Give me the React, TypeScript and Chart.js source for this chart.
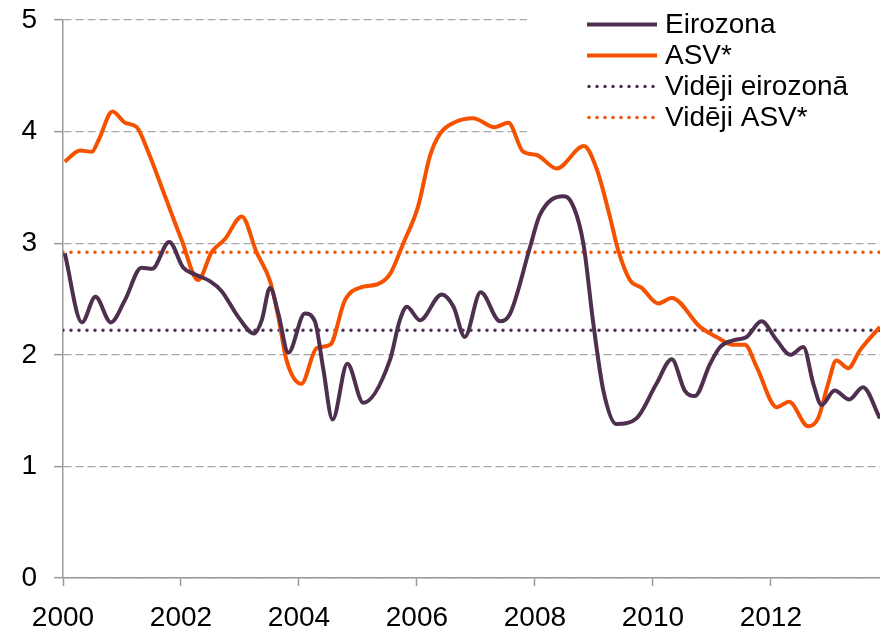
import React, { useEffect, useRef } from "react";
import { Chart, registerables } from "chart.js";

Chart.register(...registerables);

const ezYears = [
  2000.03, 2000.32, 2000.55, 2000.81, 2001.05, 2001.33, 2001.51, 2001.8, 2002.04, 2002.24,
  2002.49, 2002.69, 2002.97, 2003.24, 2003.37, 2003.51, 2003.65, 2003.82, 2004.1, 2004.27,
  2004.41, 2004.57, 2004.82, 2005.09, 2005.54, 2005.71, 2005.83, 2006.05, 2006.42, 2006.62,
  2006.81, 2007.08, 2007.41, 2007.58, 2007.92, 2008.08, 2008.48, 2008.59, 2008.82, 2008.99,
  2009.16, 2009.38, 2009.72, 2010.06, 2010.32, 2010.54, 2010.71, 2010.97, 2011.14, 2011.36,
  2011.59, 2011.84, 2012.1, 2012.33, 2012.55, 2012.72, 2012.86, 2013.08, 2013.33, 2013.56,
  2013.85,
];
const ezValues = [
  2.91, 2.29, 2.52, 2.29, 2.49, 2.78, 2.77, 3.01, 2.78, 2.72,
  2.66, 2.57, 2.34, 2.19, 2.31, 2.6, 2.37, 2.02, 2.37, 2.3,
  1.88, 1.42, 1.92, 1.57, 1.95, 2.31, 2.43, 2.31, 2.54, 2.43,
  2.16, 2.56, 2.3, 2.37, 2.97, 3.25, 3.42, 3.39, 3.0, 2.28,
  1.68, 1.38, 1.43, 1.74, 1.96, 1.68, 1.63, 1.92, 2.07, 2.13,
  2.16, 2.3, 2.13, 2.0, 2.07, 1.74, 1.55, 1.68, 1.6, 1.71,
  1.43,
];

const usYears = [
  2000.03, 2000.29, 2000.49, 2000.6, 2000.84, 2001.05, 2001.25, 2001.45, 2001.73, 2002.01,
  2002.29, 2002.52, 2002.75, 2003.03, 2003.28, 2003.51, 2003.65, 2003.79, 2004.04, 2004.3,
  2004.53, 2004.78, 2005.09, 2005.32, 2005.54, 2005.77, 2006.02, 2006.22, 2006.39, 2006.67,
  2006.95, 2007.32, 2007.55, 2007.8, 2008.03, 2008.37, 2008.83, 2009.05, 2009.27, 2009.41,
  2009.61, 2009.81, 2010.09, 2010.32, 2010.8, 2011.08, 2011.36, 2011.56, 2011.76, 2012.1,
  2012.31, 2012.63, 2012.8, 2012.97, 2013.11, 2013.31, 2013.51, 2013.85,
];
const usValues = [
  3.73, 3.83, 3.82, 3.92, 4.18, 4.08, 4.04, 3.81, 3.42, 3.03,
  2.67, 2.92, 3.04, 3.24, 2.92, 2.66, 2.34, 1.95, 1.74, 2.06,
  2.09, 2.49, 2.61, 2.63, 2.72, 3.0, 3.33, 3.78, 3.98, 4.09,
  4.12, 4.04, 4.08, 3.82, 3.79, 3.67, 3.87, 3.66, 3.24, 2.94,
  2.67, 2.6, 2.46, 2.51, 2.25, 2.16, 2.09, 2.09, 1.89, 1.53,
  1.58, 1.36, 1.43, 1.74, 1.95, 1.88, 2.04, 2.25,
];

const avgRangeYears = [2000, 2013.85];
const ezAverage = 2.22;
const usAverage = 2.92;

const xTickYears = [2000, 2002, 2004, 2006, 2008, 2010, 2012];
const yTickValues = [0, 1, 2, 3, 4, 5];

const labels = ["Eirozona", "ASV*", "Vidēji eirozonā", "Vidēji ASV*"];

const PURPLE = "#4f2f50";
const ORANGE = "#f55200";
const FONT = "'Liberation Sans', Arial, sans-serif";

const legendPlugin = {
  id: "customLegend",
  beforeDatasetsDraw(chart: any) {
    const ctx = chart.ctx;
    ctx.save();
    ctx.fillStyle = "#ffffff";
    ctx.fillRect(527, 0, 353, 138);
    ctx.restore();
  },
  afterDraw(chart: any) {
    const ctx = chart.ctx;
    ctx.save();
    chart.data.datasets.forEach((ds: any, i: number) => {
      const y = 24.5 + i * 31;
      const dotted = ds.borderDash && ds.borderDash.length;
      ctx.beginPath();
      ctx.strokeStyle = ds.borderColor;
      ctx.lineWidth = ds.borderWidth;
      ctx.lineCap = dotted ? "round" : "butt";
      ctx.setLineDash(ds.borderDash || []);
      ctx.moveTo(dotted ? 589 : 587, y);
      ctx.lineTo(657, y);
      ctx.stroke();
      ctx.setLineDash([]);
      ctx.fillStyle = "#000000";
      ctx.font = `28px ${FONT}`;
      ctx.textBaseline = "middle";
      ctx.textAlign = "left";
      ctx.fillText(ds.label, 665, y + 1);
    });
    ctx.restore();
  },
};

export default function App() {
  const ref = useRef<HTMLCanvasElement | null>(null);

  useEffect(() => {
    document.body.style.margin = "0";
    const canvas = ref.current;
    if (!canvas) return;
    const chart = new Chart(canvas, {
      type: "line",
      data: {
        datasets: [
          {
            label: labels[0],
            data: ezYears.map((x, i) => ({ x, y: ezValues[i] })),
            borderColor: PURPLE,
            borderWidth: 4,
            pointRadius: 0,
            cubicInterpolationMode: "monotone",
            borderJoinStyle: "round",
          },
          {
            label: labels[1],
            data: usYears.map((x, i) => ({ x, y: usValues[i] })),
            borderColor: ORANGE,
            borderWidth: 4,
            pointRadius: 0,
            cubicInterpolationMode: "monotone",
            borderJoinStyle: "round",
          },
          {
            label: labels[2],
            data: avgRangeYears.map((x) => ({ x, y: ezAverage })),
            borderColor: PURPLE,
            borderWidth: 3.5,
            borderDash: [0, 8],
            borderCapStyle: "round",
            pointRadius: 0,
          },
          {
            label: labels[3],
            data: avgRangeYears.map((x) => ({ x, y: usAverage })),
            borderColor: ORANGE,
            borderWidth: 3.5,
            borderDash: [0, 8],
            borderCapStyle: "round",
            pointRadius: 0,
          },
        ],
      } as any,
      options: {
        responsive: false,
        animation: false,
        layout: { padding: { top: 20, right: 0, bottom: 0, left: 0 } },
        plugins: {
          legend: { display: false },
          tooltip: { enabled: false },
          title: { display: false },
        },
        scales: {
          x: {
            type: "linear",
            min: 2000,
            max: 2013.85,
            afterBuildTicks: (s: any) => {
              s.ticks = xTickYears.map((v) => ({ value: v }));
            },
            afterFit: (s: any) => {
              s.height = 50;
              s.paddingLeft = 0;
              s.paddingRight = 0;
            },
            ticks: {
              callback: (v: any) => String(v),
              font: { family: FONT, size: 28 },
              color: "#000000",
              padding: 15,
              maxRotation: 0,
              autoSkip: false,
            },
            grid: {
              drawOnChartArea: false,
              drawTicks: true,
              tickLength: 8,
              tickColor: "#999999",
              tickWidth: 1.5,
            },
            border: { display: true, color: "#999999", width: 1.5 },
          },
          y: {
            type: "linear",
            min: 0,
            max: 5,
            afterBuildTicks: (s: any) => {
              s.ticks = yTickValues.map((v) => ({ value: v }));
            },
            afterFit: (s: any) => {
              s.width = 63;
              s.paddingTop = 0;
              s.paddingBottom = 0;
            },
            ticks: {
              callback: (v: any) => String(v),
              font: { family: FONT, size: 28 },
              color: "#000000",
              padding: 17,
            },
            grid: {
              color: "#a6a6a6",
              lineWidth: 1.3,
              tickLength: 9,
              tickColor: "#999999",
              tickWidth: 1.5,
              tickBorderDash: [],
            },
            border: { display: true, color: "#999999", width: 1.5, dash: [8, 4] },
          },
        },
      } as any,
      plugins: [legendPlugin],
    });
    return () => chart.destroy();
  }, []);

  return (
    <div style={{ width: 880, height: 628 }}>
      <canvas ref={ref} width={880} height={628} style={{ display: "block", width: 880, height: 628 }} />
    </div>
  );
}
